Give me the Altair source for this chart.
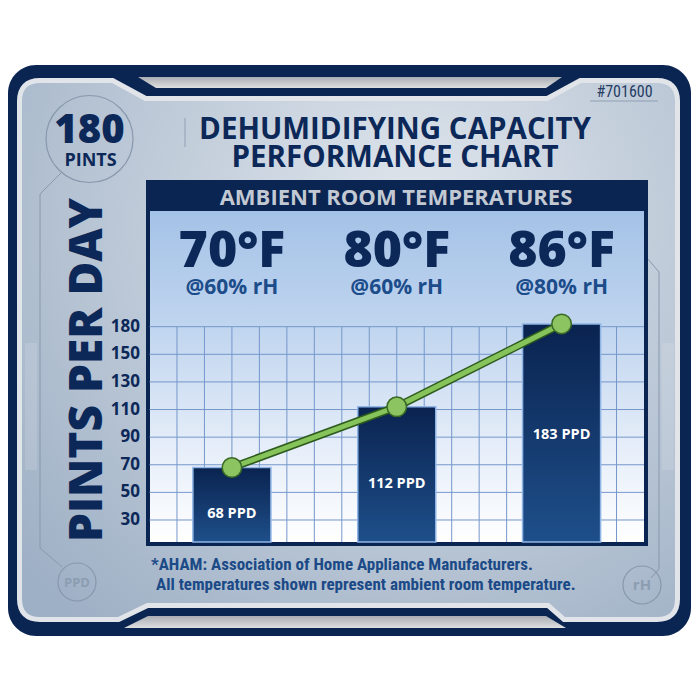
import altair as alt
import pandas as pd

# ---------------- data ----------------
temps = ["70°F", "80°F", "86°F"]
humid = ["@60% rH", "@60% rH", "@80% rH"]
ppd = [68, 112, 183]
y_ticks = [30, 50, 70, 90, 110, 130, 150, 180]
grid_cols = list(range(1, 18))

title_lines = ["DEHUMIDIFYING CAPACITY", "PERFORMANCE CHART"]
header_text = "AMBIENT ROOM TEMPERATURES"
y_title = "PINTS PER DAY"
badge = ["180", "PINTS"]
part_no = "#701600"
notes = ["*AHAM: Association of Home Appliance Manufacturers.",
         "All temperatures shown represent ambient room temperature."]

df = pd.DataFrame({"temp": temps, "rh": humid, "ppd": ppd, "idx": list(range(len(ppd)))})
df_ticks = pd.DataFrame({"v": y_ticks})
df_cols = pd.DataFrame({"g": grid_cols})

# ---------------- styling ----------------
O = 8
def px(v):
    return v - O
def t(x, y):
    return f"{x - O},{y - O}"

FONT = "Open Sans"
NARROW = "'Roboto Condensed', 'Liberation Sans Narrow', Roboto"
NAVY = "#0b2553"
TXT = "#0c2858"
BLUE = "#1c4c8a"
GREY_LINE = "#8898ad"

XS = alt.Scale(domain=[0, 18], range=[px(149.5), px(644)], nice=False, zero=False)
YS = alt.Scale(domain=[10, 150, 180], range=[px(547.6), px(354.3), px(326.7)], nice=False, zero=False)

one = alt.Data(values=[{"a": 1}])

def shape(d, **kw):
    return alt.Chart(one).mark_point(shape=d, size=4, opacity=1, **kw).encode(
        x=alt.value(0), y=alt.value(0))

def txt(s, x, y, size, color, weight="bold", font=FONT, align="center",
        baseline="alphabetic", angle=None):
    kw = dict(text=s, font=font, fontSize=size, fontWeight=weight, color=color,
              align=align, baseline=baseline)
    if angle is not None:
        kw["angle"] = angle
    return alt.Chart(one).mark_text(**kw).encode(x=alt.value(px(x)), y=alt.value(px(y)))

def box(x1, x2, y1, y2, **kw):
    return alt.Chart(one).mark_rect(**kw).encode(
        x=alt.value(px(x1)), x2=alt.value(px(x2)), y=alt.value(px(y1)), y2=alt.value(px(y2)))

def rule(x1, x2, y1, y2, **kw):
    return alt.Chart(one).mark_rule(**kw).encode(
        x=alt.value(px(x1)), x2=alt.value(px(x2)), y=alt.value(px(y1)), y2=alt.value(px(y2)))

panel_d = (f"M{t(22,101)} Q{t(22,83)} {t(40,83)} L{t(112,83)} L{t(145,101)} L{t(548,101)} "
           f"L{t(581,83)} L{t(657,83)} Q{t(675,83)} {t(675,101)} L{t(675,599)} "
           f"Q{t(675,617)} {t(657,617)} L{t(565,617)} L{t(549,603)} L{t(147,603)} "
           f"L{t(118,617)} L{t(40,617)} Q{t(22,617)} {t(22,599)} Z")
top_strip = f"M{t(138,77)} L{t(562,77)} L{t(546,88)} L{t(156,88)} Z"
bot_strip = f"M{t(148,616)} L{t(546,616)} L{t(566,628)} L{t(124,628)} Z"
left_conn = f"M{t(62,172)} L{t(40,194)} L{t(40,548)} L{t(62,567)}"
right_conn = f"M{t(647,258)} L{t(659,272)} L{t(659,569)} L{t(651,578)}"

panel_grad = alt.RadialGradient(
    gradient="radial", x1=0.6, y1=0.3, x2=0.6, y2=0.3, r1=0, r2=0.8,
    stops=[alt.GradientStop(color="#e0e6ed", offset=0),
           alt.GradientStop(color="#c3cedb", offset=0.45),
           alt.GradientStop(color="#9eb0c5", offset=1)])
strip_grad = alt.LinearGradient(
    gradient="linear", x1=0, y1=0, x2=0, y2=1,
    stops=[alt.GradientStop(color="#a9adb2", offset=0),
           alt.GradientStop(color="#dedfe1", offset=1)])
inner_grad = alt.LinearGradient(
    gradient="linear", x1=0, y1=0, x2=0, y2=1,
    stops=[alt.GradientStop(color="#a4c2e7", offset=0),
           alt.GradientStop(color="#c0d5ef", offset=0.35),
           alt.GradientStop(color="#e6eef9", offset=0.72),
           alt.GradientStop(color="#ffffff", offset=1)])
bar_grad = alt.LinearGradient(
    gradient="linear", x1=0, y1=0, x2=0, y2=1,
    stops=[alt.GradientStop(color="#0a2350", offset=0),
           alt.GradientStop(color="#1e4f8a", offset=1)])

layers = []
# frame
layers.append(box(8, 691, 65, 636, color=NAVY, cornerRadius=28))
layers.append(shape(panel_d, filled=True, fill="#e1e5ea", stroke="#e1e5ea", strokeWidth=10))
layers.append(shape(panel_d, filled=True, fill=panel_grad))
layers.append(shape(top_strip, filled=True, fill=strip_grad))
layers.append(shape(bot_strip, filled=True, fill=strip_grad))
layers.append(box(25, 37, 343, 470, color="#ffffff", opacity=0.12))
layers.append(box(662, 674, 343, 470, color="#ffffff", opacity=0.12))
layers.append(shape(left_conn, filled=False, stroke=GREY_LINE, strokeWidth=1))
layers.append(shape(right_conn, filled=False, stroke=GREY_LINE, strokeWidth=1))
for (cx, cy, r) in [(89.5, 139, 43.5), (77, 582, 19), (642, 585, 19)]:
    layers.append(alt.Chart(one).mark_point(shape="circle", size=(2 * r) ** 2, filled=False,
                                            stroke=GREY_LINE, strokeWidth=1.2, opacity=1)
                  .encode(x=alt.value(px(cx)), y=alt.value(px(cy))))
layers.append(txt(badge[0], 89.5, 143, 40, TXT, weight=900))
layers.append(txt(badge[1], 90.5, 166, 18, TXT, weight="bold"))
layers.append(txt("PPD", 77, 587, 13, "#8c9db2", weight="bold"))
layers.append(txt("rH", 642, 590, 15, "#8c9db2", weight="bold"))
layers.append(rule(185, 185, 118, 147, color="#8f9fb3", strokeWidth=1))
layers.append(txt(part_no, 624.5, 97, 16, "#253c63", weight="normal", font=NARROW))
layers.append(rule(590, 658, 101, 101, color="#8f9fb3", strokeWidth=1))
layers.append(txt(title_lines[0], 395, 139, 29.5, TXT, weight="bold"))
layers.append(txt(title_lines[1], 395, 167, 29.5, TXT, weight="bold"))
layers.append(txt(y_title, 102, 370, 46, TXT, weight=900, angle=270))

# chart box
layers.append(box(146, 648, 180, 546, color=NAVY))
layers.append(box(150, 644, 211, 542, color=inner_grad))
layers.append(txt(header_text, 396, 205, 22, "#c3c9d2", weight="bold"))

# grid
layers.append(alt.Chart(df_cols).transform_calculate(top="180").mark_rule(
    color="#7597cb", strokeWidth=1).encode(
    x=alt.X("g:Q", scale=XS, axis=None),
    y=alt.Y("top:Q", scale=YS, axis=None),
    y2=alt.value(px(542))))
layers.append(alt.Chart(df_ticks).transform_calculate(a="0", b="18").mark_rule(
    color="#7597cb", strokeWidth=1).encode(
    x=alt.X("a:Q", scale=XS, axis=None), x2="b:Q",
    y=alt.Y("v:Q", scale=YS, axis=None)))

# y tick labels (through the y scale)
layers.append(alt.Chart(df_ticks).mark_text(
    font=FONT, fontSize=17, fontWeight="bold", color=TXT, align="right", baseline="middle").encode(
    x=alt.value(px(140)), y=alt.Y("v:Q", scale=YS, axis=None), text="v:Q"))

base = alt.Chart(df).transform_calculate(
    pos="3 + 6 * datum.idx", x0="3 + 6 * datum.idx - 1.42", x1="3 + 6 * datum.idx + 1.42",
    half="datum.ppd / 2", lab="datum.ppd + ' PPD'")

layers.append(base.mark_rect(color=bar_grad, stroke="#8fb5e6", strokeWidth=1.5).encode(
    x=alt.X("x0:Q", scale=XS, axis=None), x2="x1:Q",
    y=alt.Y("ppd:Q", scale=YS, axis=None),
    y2=alt.value(px(542))))
layers.append(base.mark_text(font=FONT, fontSize=14.5, fontWeight="bold", color="white",
                             baseline="middle").encode(
    x=alt.X("pos:Q", scale=XS, axis=None),
    y=alt.Y("half:Q", scale=YS, axis=None), text="lab:N"))
layers.append(base.mark_line(color="#2d5a1d", strokeWidth=8).encode(
    x=alt.X("pos:Q", scale=XS, axis=None), y=alt.Y("ppd:Q", scale=YS, axis=None)))
layers.append(base.mark_line(color="#86c35a", strokeWidth=5).encode(
    x=alt.X("pos:Q", scale=XS, axis=None), y=alt.Y("ppd:Q", scale=YS, axis=None)))
layers.append(base.mark_circle(size=380, color="#8cc462", stroke="#3a6a26", strokeWidth=1.5,
                               opacity=1).encode(
    x=alt.X("pos:Q", scale=XS, axis=None), y=alt.Y("ppd:Q", scale=YS, axis=None)))
layers.append(base.mark_text(font=FONT, fontSize=50, fontWeight=900, color=TXT,
                             baseline="alphabetic").encode(
    x=alt.X("pos:Q", scale=XS, axis=None), y=alt.value(px(267)), text="temp:N"))
layers.append(base.mark_text(font=FONT, fontSize=21, fontWeight="bold", color=BLUE,
                             baseline="alphabetic").encode(
    x=alt.X("pos:Q", scale=XS, axis=None), y=alt.value(px(294)), text="rh:N"))

# footnotes
layers.append(txt(notes[0], 151, 570, 17, "#1b4a87", weight="bold", font=NARROW, align="left"))
layers.append(txt(notes[1], 156, 590, 17, "#1b4a87", weight="bold", font=NARROW, align="left"))

chart = alt.layer(*layers).properties(
    width=684, height=684, autosize=alt.AutoSizeParams(type="none"), padding=0,
    background="white").configure_view(stroke=None)

chart.save("out.html", embed_options={"renderer": "svg", "actions": False})
